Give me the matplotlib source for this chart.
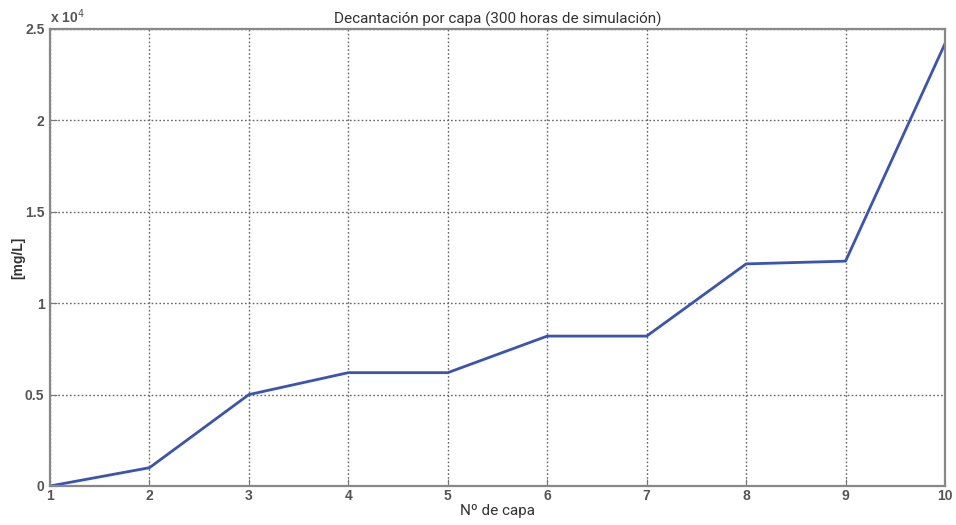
import matplotlib
matplotlib.use("Agg")
import matplotlib.pyplot as plt

# Settled concentration per layer after 300 h of simulation
capas = [1, 2, 3, 4, 5, 6, 7, 8, 9, 10]
concentracion = [0, 1000, 5000, 6200, 6200, 8200, 8200, 12150, 12300, 24200]
yticks = [0, 5000, 10000, 15000, 20000, 25000]
ytick_labels = ["0", "0.5", "1", "1.5", "2", "2.5"]

fig = plt.figure(figsize=(9.56, 5.25), dpi=100)
ax = fig.add_axes([0.0523, 0.0743, 0.9362, 0.8705])

ax.plot(capas, concentracion, color="#3b53b5", lw=2.0)

ax.set_xlim(1, 10)
ax.set_ylim(0, 25000)
ax.set_xticks(capas)
ax.set_yticks(yticks)
ax.set_yticklabels(ytick_labels)

for lbl in ax.get_xticklabels() + ax.get_yticklabels():
    lbl.set_fontfamily("Liberation Sans")
    lbl.set_fontsize(10)
    lbl.set_fontweight("bold")
    lbl.set_color("#555555")

ax.tick_params(direction="in", length=5, color="#777777", pad=2)
ax.tick_params(axis="y", pad=4)
for s in ax.spines.values():
    s.set_color("#888888")
    s.set_linewidth(1.6)

ax.grid(True, linestyle=(0, (1.2, 1.6)), color="#666666", linewidth=1.0)

ax.set_title("Decantación por capa (300 horas de simulación)",
             fontfamily="Roboto", fontsize=11, color="#333333", pad=4)
ax.set_xlabel("Nº de capa", fontfamily="Roboto", fontsize=11,
              color="#333333", labelpad=1)
ax.set_ylabel("[mg/L]", fontfamily="Liberation Sans", fontsize=10,
              fontweight="bold", color="#333333", va="center")
ax.yaxis.set_label_coords(-0.036, 0.5)

ax.text(0.0, 1.006, r"x 10$^4$", transform=ax.transAxes,
        ha="left", va="bottom", fontfamily="Liberation Sans",
        fontsize=10, fontweight="bold", color="#555555")

fig.savefig("out.png", dpi=100)
